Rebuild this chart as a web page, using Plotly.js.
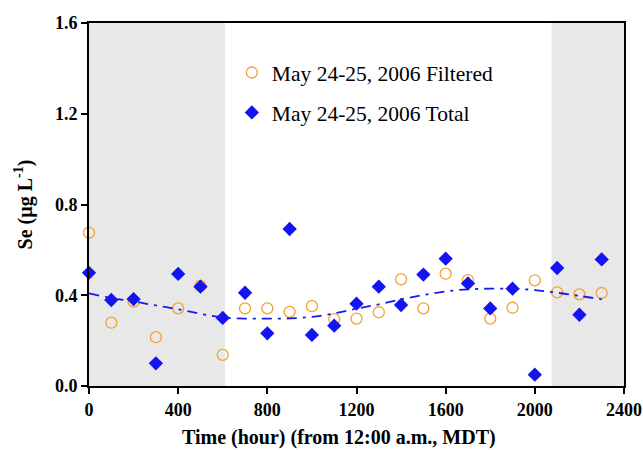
<!DOCTYPE html>
<html><head><meta charset="utf-8">
<script src="https://cdn.plot.ly/plotly-3.0.1.min.js"></script>
<style>body{margin:0;background:#fff}#c{width:643px;height:450px}</style>
</head><body><div id="c"></div>
<script>
const hours = [0,100,200,300,400,500,600,700,800,900,1000,1100,1200,1300,1400,1500,1600,1700,1800,1900,2000,2100,2200,2300];
const filtered = [0.676,0.279,0.372,0.215,0.342,0.441,0.137,0.342,0.342,0.327,0.352,0.295,0.297,0.325,0.470,0.342,0.495,0.467,0.297,0.345,0.466,0.413,0.404,0.410];
const total = [0.499,0.379,0.383,0.100,0.494,0.438,0.300,0.411,0.232,0.692,0.225,0.266,0.363,0.438,0.357,0.491,0.561,0.452,0.342,0.429,0.050,0.520,0.314,0.558];
const fitHours = [0,100,200,300,400,500,600,700,800,900,1000,1100,1200,1300,1400,1500,1600,1700,1800,1900,2000,2100,2200,2300];
const fitValues = [0.408,0.388,0.373,0.355,0.338,0.318,0.302,0.297,0.297,0.298,0.305,0.320,0.341,0.360,0.382,0.401,0.417,0.426,0.429,0.429,0.423,0.411,0.397,0.382];
const nightPeriods = [[0,610],[2075,2400]];
const legendNames = ['May 24-25, 2006 Filtered','May 24-25, 2006 Total'];
const xTitle = 'Time (hour) (from 12:00 a.m., MDT)';
const yTitle = 'Se (µg L<sup>-1</sup>)';

const serif = 'Liberation Serif, Times New Roman, serif';
const traces = [
  {x: hours, y: filtered, type:'scatter', mode:'markers', name: legendNames[0], legendgroup:'a',
   marker:{symbol:'circle-open', size:11, color:'#F5A031', line:{width:1.3, color:'#F5A031'}}, cliponaxis:false},
  {x: hours, y: total, type:'scatter', mode:'markers', name: legendNames[1], legendgroup:'b',
   marker:{symbol:'diamond', size:11, color:'#1414F0', line:{width:0}}, cliponaxis:false},
  {x: fitHours, y: fitValues, type:'scatter', mode:'lines', showlegend:false,
   line:{color:'#1A1AE8', width:1.8, dash:'10px,6px,3px,6px', shape:'spline'}}
];
const shapes = nightPeriods.map(p => ({type:'rect', xref:'x', yref:'paper', x0:p[0], x1:p[1], y0:0, y1:1,
  fillcolor:'#E8E8E8', line:{width:0}, layer:'below'}));
const layout = {
  width:643, height:450,
  margin:{l:89, r:19, t:23, b:64},
  paper_bgcolor:'#fff', plot_bgcolor:'#fff',
  showlegend:true,
  legend:{x:0.267, y:0.92, xanchor:'left', yanchor:'top', bgcolor:'rgba(0,0,0,0)',
    font:{family:serif, size:21.5, color:'#000'}, tracegroupgap:9, traceorder:'grouped', itemsizing:'trace'},
  shapes: shapes,
  annotations:[
    {text:xTitle, xref:'paper', yref:'paper', x:0.4665, y:-0.143, xanchor:'center', yanchor:'middle', showarrow:false,
     font:{family:serif, size:20, color:'#000', weight:'bold'}}
  ],
  xaxis:{range:[0,2400], tickvals:[0,400,800,1200,1600,2000,2400], showgrid:false, zeroline:false,
    showline:true, linecolor:'#000', linewidth:2, mirror:true,
    ticks:'outside', ticklen:6, tickwidth:2, tickcolor:'#000',
    tickfont:{family:serif, size:18, color:'#000', weight:'bold'}},
  yaxis:{range:[0,1.6], tickvals:[0,0.4,0.8,1.2,1.6], tickformat:'.1f', showgrid:false, zeroline:false,
    showline:true, linecolor:'#000', linewidth:2, mirror:true,
    ticks:'outside', ticklen:6, tickwidth:2, tickcolor:'#000',
    tickfont:{family:serif, size:18, color:'#000', weight:'bold'},
    title:{text:yTitle, font:{family:serif, size:20, color:'#000', weight:'bold'}, standoff:17}}
};
Plotly.newPlot('c', traces, layout, {displayModeBar:false, staticPlot:true});
</script></body></html>
